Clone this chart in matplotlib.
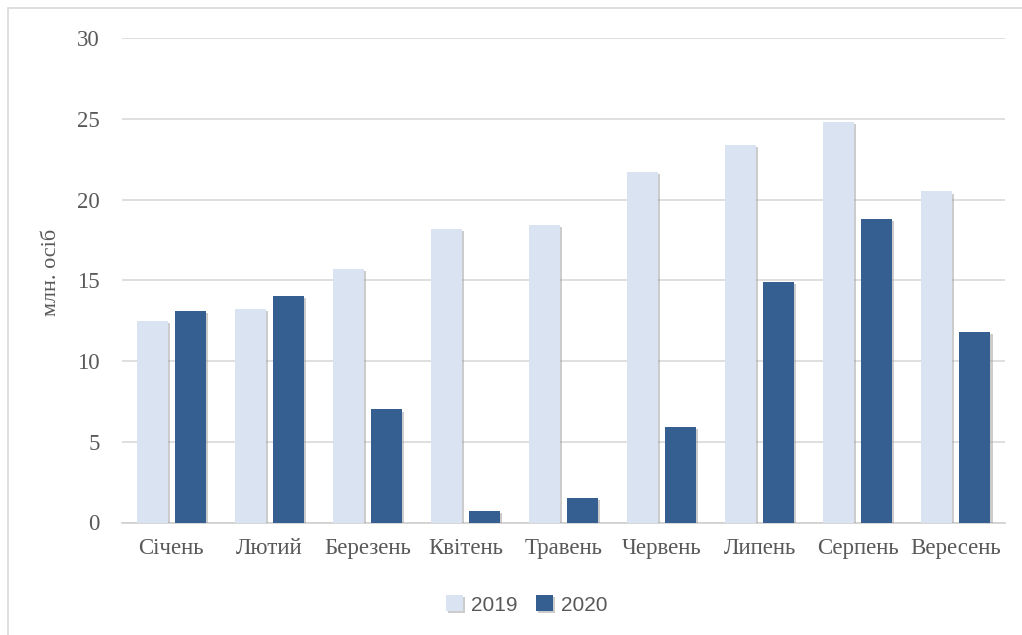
import matplotlib.pyplot as plt
import matplotlib.patheffects as pe
from matplotlib.patches import Rectangle
import numpy as np

months = ["Січень", "Лютий", "Березень", "Квітень", "Травень",
          "Червень", "Липень", "Серпень", "Вересень"]
values_2019 = [12.5, 13.2, 15.7, 18.2, 18.4, 21.7, 23.4, 24.8, 20.5]
values_2020 = [13.1, 14.0, 7.0, 0.7, 1.5, 5.9, 14.9, 18.8, 11.8]
yticks = [0, 5, 10, 15, 20, 25, 30]

light = "#DAE3F1"
dark = "#355F91"
text_col = "#595959"

fig = plt.figure(figsize=(10.22, 6.35), dpi=100)
# thin grey frame round the chart (only left/top visible in the reference)
fig.patches.append(Rectangle((8 / 1022, -0.01), 1.1, 1 - 8 / 635 + 0.01,
                             transform=fig.transFigure, fill=False,
                             edgecolor="#D9D9D9", linewidth=1.2))

ax = fig.add_axes([122 / 1022, 112.5 / 635, 883 / 1022, 484.5 / 635])

x = np.arange(len(months))
w = 0.316
off = 0.194
shadow = [pe.SimplePatchShadow(offset=(1.5, -1.5), shadow_rgbFace="#9a9a9a", alpha=0.5), pe.Normal()]
b1 = ax.bar(x - off, values_2019, w, color=light, label="2019", zorder=3)
b2 = ax.bar(x + off, values_2020, w, color=dark, label="2020", zorder=3)
for b in list(b1) + list(b2):
    b.set_path_effects(shadow)

ax.set_xlim(-0.5, len(months) - 0.5)
ax.set_ylim(0, 30)
ax.set_yticks(yticks)
ax.set_xticks(x)
ax.set_xticklabels(months)
ax.yaxis.grid(True, color="#D9D9D9", linewidth=1.2, zorder=0)
ax.set_axisbelow(True)
for s in ["top", "right", "left"]:
    ax.spines[s].set_visible(False)
ax.spines["bottom"].set_color("#D0D0D0")
ax.spines["bottom"].set_linewidth(1.2)
ax.tick_params(length=0, labelsize=16.5, labelcolor=text_col)
ax.tick_params(axis="y", pad=16)
ax.tick_params(axis="x", pad=11)
for lbl in ax.get_xticklabels() + ax.get_yticklabels():
    lbl.set_family("Liberation Serif")

fig.text(52 / 1022, 1 - 272 / 635, "млн. осіб", rotation=90, ha="center", va="center",
         family="Liberation Serif", fontsize=16, color=text_col)

leg = fig.legend(loc="center", bbox_to_anchor=(527 / 1022, 1 - 605 / 635), ncol=2,
                 frameon=False, prop={"family": "Liberation Sans", "size": 15},
                 handlelength=0.8, handleheight=0.8, handletextpad=0.4, columnspacing=0.9)
for t in leg.get_texts():
    t.set_color(text_col)

fig.savefig("out.png", dpi=100)
